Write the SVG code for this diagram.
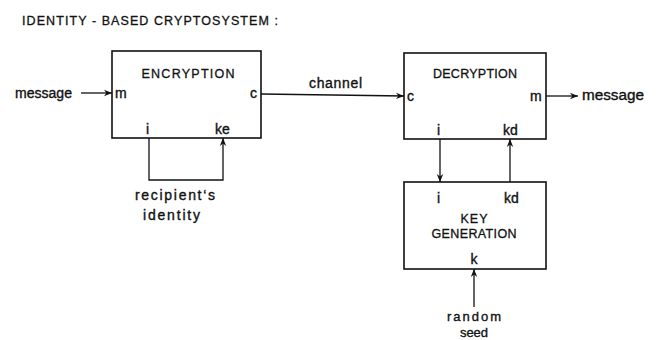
<svg xmlns="http://www.w3.org/2000/svg" width="657" height="340" viewBox="0 0 657 340">
<defs>
<marker id="ah" viewBox="0 0 10 10" refX="10" refY="5" markerWidth="8" markerHeight="8" markerUnits="userSpaceOnUse" orient="auto">
<path d="M0,1 L10,5 L0,9 L3,5 Z" fill="#111"/>
</marker>
<style>
.box{fill:#fff;stroke:#111;stroke-width:1.6}
.ln{fill:none;stroke:#111;stroke-width:1.3}
.t{font-family:"Liberation Sans",Arial,sans-serif;fill:#111;stroke:#111;stroke-width:0.35;font-size:14px}
.s{font-size:13px}
.c{text-anchor:middle}
.cap{font-family:"Liberation Sans",Arial,sans-serif;fill:#111;stroke:#111;stroke-width:0.3;font-size:12.5px;text-anchor:middle}
</style>
</defs>
<rect width="657" height="340" fill="#fff"/>
<text x="22" y="25" style="font-family:'Liberation Sans',Arial,sans-serif;font-size:12.5px;fill:#111;stroke:#111;stroke-width:0.3" textLength="256" lengthAdjust="spacing">IDENTITY - BASED  CRYPTOSYSTEM :</text>
<g id="encryption">
<rect class="box" x="112" y="51" width="149" height="87"/>
<text class="cap" x="188" y="78" textLength="93" lengthAdjust="spacing">ENCRYPTION</text>
<text class="t" x="115" y="98">m</text>
<text class="t" x="250" y="98">c</text>
<text class="t" x="146" y="134">i</text>
<text class="t" x="215" y="134">ke</text>
</g>
<g id="decryption">
<rect class="box" x="404" y="53" width="142" height="86"/>
<text class="cap" x="475" y="78" textLength="84" lengthAdjust="spacing">DECRYPTION</text>
<text class="t" x="407" y="101">c</text>
<text class="t" x="530" y="101">m</text>
<text class="t" x="437" y="135">i</text>
<text class="t" x="503" y="135">kd</text>
</g>
<g id="keygen">
<rect class="box" x="404" y="182" width="142" height="87"/>
<text class="t" x="437" y="203">i</text>
<text class="t" x="504" y="203">kd</text>
<text class="cap" x="474" y="223" textLength="27" lengthAdjust="spacing">KEY</text>
<text class="cap" x="474" y="238" textLength="85" lengthAdjust="spacing">GENERATION</text>
<text class="t c" x="474" y="264">k</text>
</g>
<g id="labels">
<text class="t" x="15" y="98" textLength="57" lengthAdjust="spacingAndGlyphs">message</text>
<text class="t" x="309" y="88" textLength="53" lengthAdjust="spacing">channel</text>
<text class="t" x="582" y="100" textLength="62" lengthAdjust="spacingAndGlyphs">message</text>
<text class="t" x="135" y="200" textLength="80" lengthAdjust="spacing">recipient‘s</text>
<text class="t" x="143" y="220" textLength="57" lengthAdjust="spacing">identity</text>
<text class="t s" x="447" y="321" textLength="54" lengthAdjust="spacing">random</text>
<text class="t s c" x="474" y="337">seed</text>
</g>
<g id="connectors">
<line class="ln" x1="81" y1="93" x2="112" y2="93" marker-end="url(#ah)"/>
<line class="ln" x1="261" y1="94" x2="404" y2="96" marker-end="url(#ah)"/>
<line class="ln" x1="546" y1="96" x2="578" y2="96" marker-end="url(#ah)"/>
<polyline class="ln" points="149,138 149,180 223,180 223,138" marker-end="url(#ah)"/>
<line class="ln" x1="440" y1="139" x2="440" y2="182" marker-end="url(#ah)"/>
<line class="ln" x1="510" y1="182" x2="510" y2="139" marker-end="url(#ah)"/>
<line class="ln" x1="474" y1="307" x2="474" y2="269" marker-end="url(#ah)"/>
</g>
</svg>
